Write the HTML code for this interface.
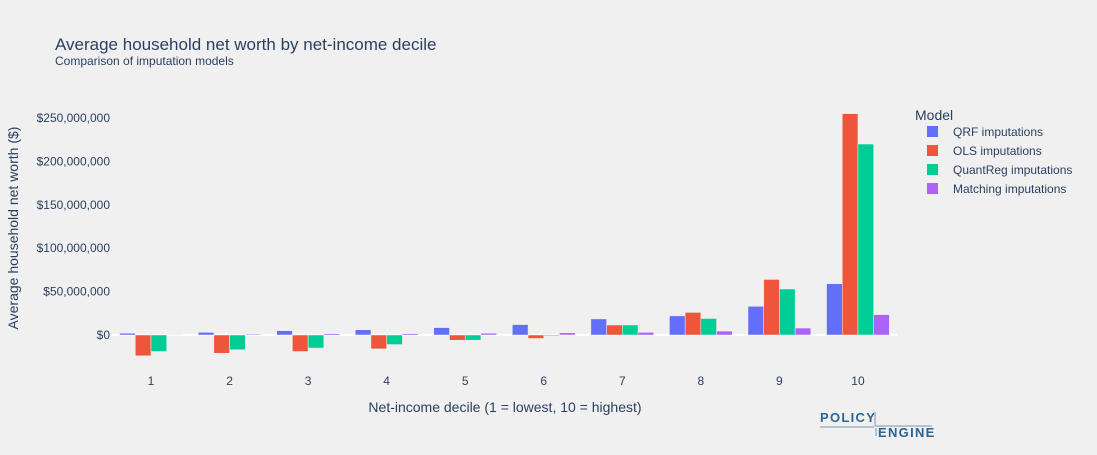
<!DOCTYPE html>
<html><head><meta charset="utf-8"><style>
body{margin:0;background:#f0f0f0;font-family:"Liberation Sans",sans-serif;}
svg text{font-family:"Liberation Sans",sans-serif;fill:#2a3f5f;}
</style></head><body>
<svg id="chart" width="1097" height="450">
<rect width="1097" height="450" fill="#f0f0f0"/>
<text x="55" y="50" font-size="17">Average household net worth by net-income decile</text>
<text x="55" y="65" font-size="12">Comparison of imputation models</text>
<text transform="translate(18,228) rotate(-90)" text-anchor="middle" font-size="14">Average household net worth ($)</text>
<text x="505" y="412" text-anchor="middle" font-size="14">Net-income decile (1 = lowest, 10 = highest)</text>
<g id="grid"></g><g id="bars"></g><g id="ticks"></g>
<g>
<text x="915" y="120" font-size="14">Model</text>
<g id="legend"></g>
</g>
<g>
<text x="820" y="422" font-size="13" font-weight="bold" letter-spacing="1.3" style="fill:#2c6496">POLICY</text>
<text x="878" y="437" font-size="13" font-weight="bold" letter-spacing="1.3" style="fill:#2c6496">ENGINE</text>
<path d="M820 427 H874 M875 412 V426 H932 M876 428 V436" stroke="#9fb4c8" stroke-width="1.5" fill="none"/>
</g>
</svg>
<script>
const categories=["1","2","3","4","5","6","7","8","9","10"];
const seriesNames=["QRF imputations","OLS imputations","QuantReg imputations","Matching imputations"];
const qrf=[2,3,5,6,8.5,12,18.5,22,33,59];
const ols=[-24,-21,-19,-16,-6,-4,11.5,26,64,255];
const quantreg=[-19,-17,-15,-11,-6,-1,11.5,19,53,220];
const matching=[0.5,1,1.5,1.5,2,2.5,3,4.5,8,23.5];
const yTicks=[0,50,100,150,200,250];
const colors=["#636efa","#ef553b","#00cc96","#ab63fa"];
const series=[qrf,ols,quantreg,matching];
const NS="http://www.w3.org/2000/svg";
const y=v=>335-v*0.868;
const x=i=>151+i*78.55;
function mk(tag,attrs,parent){const e=document.createElementNS(NS,tag);for(const k in attrs)e.setAttribute(k,attrs[k]);document.getElementById(parent).appendChild(e);return e;}
yTicks.forEach(t=>{
  const l=mk("line",{x1:112,x2:897,y1:y(t),y2:y(t),stroke:t===0?"#fff":"none","stroke-width":2},"grid");
  
  
  const tx=mk("text",{x:110,y:y(t)+4,"text-anchor":"end","font-size":12},"ticks");
  tx.textContent="$"+(t*1e6).toLocaleString("en-US");
  
  
});
categories.forEach((c,i)=>{
  const tx=mk("text",{x:x(i),y:385,"text-anchor":"middle","font-size":12},"ticks");
  tx.textContent=c;
  
  
  series.forEach((s,j)=>{
    const v=s[i];const bx=x(i)-31.4+j*15.7;
    const r=mk("rect",{x:bx,y:Math.min(y(v),y(0)),width:15.7,height:Math.abs(y(v)-y(0)),fill:colors[j],stroke:"#f0f0f0","stroke-width":0.5},"bars");
    
    
  });
});
seriesNames.forEach((n,j)=>{
  const r=mk("rect",{x:927,y:126+j*19,width:11,height:11,fill:colors[j]},"legend");
  
  
  const t=mk("text",{x:953,y:136+j*19,"font-size":12},"legend");
  t.textContent=n;
  
  
});
</script>
</body></html>
